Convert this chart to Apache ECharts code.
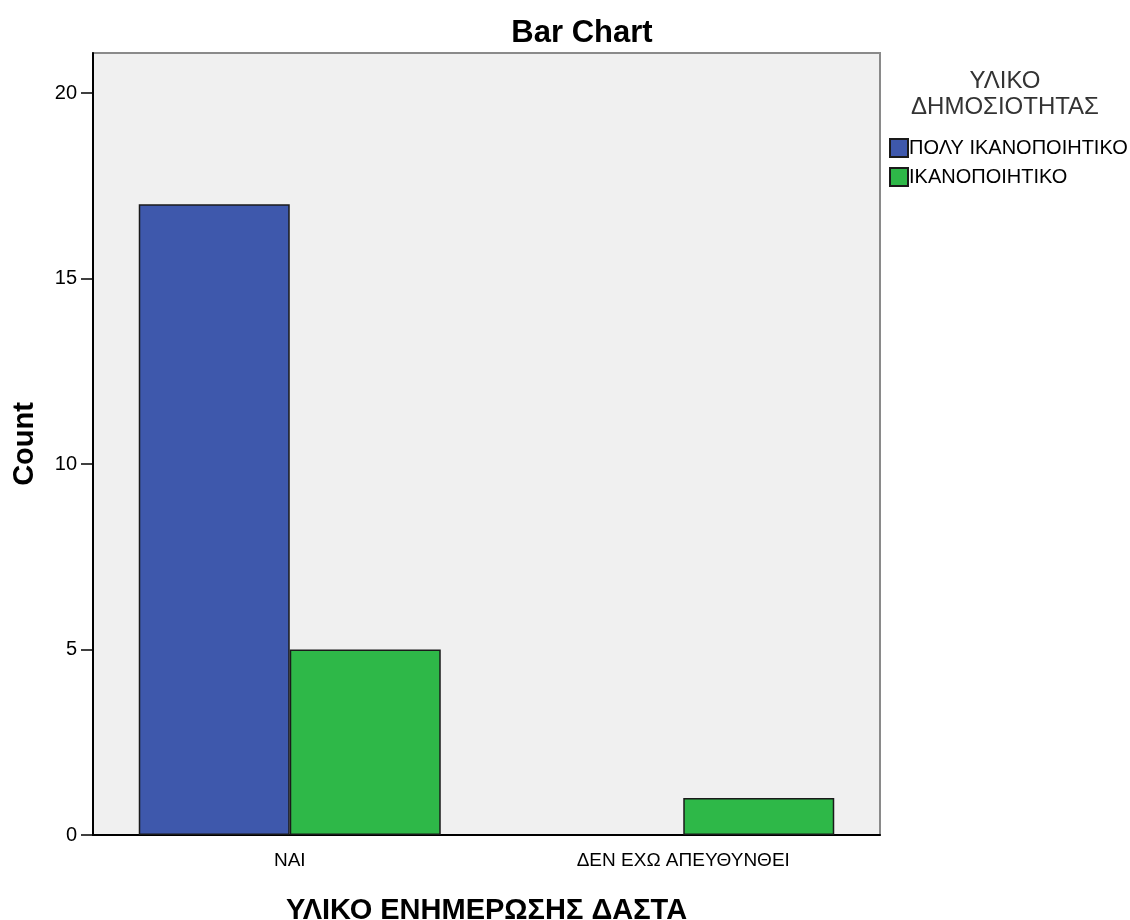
<!DOCTYPE html>
<html>
<head>
<meta charset="utf-8">
<script src="https://cdn.jsdelivr.net/npm/echarts@6/dist/echarts.min.js"></script>
<style>html,body{margin:0;padding:0;background:#fff}#c{width:1130px;height:920px}</style>
</head>
<body>
<div id="c"></div>
<script>
const categories = ['ΝΑΙ', 'ΔΕΝ ΕΧΩ ΑΠΕΥΘΥΝΘΕΙ'];
const seriesNames = ['ΠΟΛΥ ΙΚΑΝΟΠΟΙΗΤΙΚΟ', 'ΙΚΑΝΟΠΟΙΗΤΙΚΟ'];
const valuesVerySatisfactory = [17, null];
const valuesSatisfactory = [5, 1];
const yTicks = [0, 5, 10, 15, 20];
const chartTitle = 'Bar Chart';
const legendTitle = 'ΥΛΙΚΟ\nΔΗΜΟΣΙΟΤΗΤΑΣ';
const xName = 'ΥΛΙΚΟ ΕΝΗΜΕΡΩΣΗΣ ΔΑΣΤΑ';
const yName = 'Count';

const font = '"Liberation Sans", Arial, sans-serif';
const chart = echarts.init(document.getElementById('c'), null, {renderer: 'canvas'});
chart.setOption({
  animation: false,
  textStyle: {fontFamily: font},
  title: [
    {text: chartTitle, left: 577, top: 13, textAlign: 'center',
     textStyle: {fontFamily: font, fontSize: 31, fontWeight: 'bold', color: '#000'}},
    {text: legendTitle, left: 1000, top: 63, textAlign: 'center',
     textStyle: {fontFamily: font, fontSize: 24, fontWeight: 'normal', color: '#333', lineHeight: 26}}
  ],
  legend: {
    orient: 'vertical', left: 884, top: 133, itemWidth: 18, itemHeight: 18, itemGap: 9,
    icon: 'rect', data: seriesNames,
    textStyle: {fontFamily: font, fontSize: 20, color: '#000', padding: [0, 0, 0, -4]}
  },
  grid: {left: 93, right: 250, top: 53, bottom: 85, show: true, outerBoundsMode: 'none', containLabel: false,
         backgroundColor: '#f0f0f0', borderColor: '#8a8a8a', borderWidth: 2},
  xAxis: {
    type: 'category', data: categories,
    name: xName, nameLocation: 'middle', nameGap: 61, nameMoveOverlap: false,
    nameTextStyle: {fontFamily: font, fontSize: 29, fontWeight: 'bold', color: '#000'},
    axisLine: {lineStyle: {color: '#000', width: 2}},
    axisTick: {alignWithLabel: true, length: 11, lineStyle: {color: '#000', width: 1.5}},
    axisLabel: {fontFamily: font, fontSize: 19, color: '#000', margin: 16}
  },
  yAxis: {
    type: 'value', min: 0, max: 21.08, interval: 5,
    name: yName, nameLocation: 'middle', nameGap: 54, nameRotate: 90, nameMoveOverlap: false,
    nameTextStyle: {fontFamily: font, fontSize: 29, fontWeight: 'bold', color: '#000'},
    axisLine: {show: true, lineStyle: {color: '#000', width: 2}},
    axisTick: {show: true, length: 12, customValues: yTicks, lineStyle: {color: '#000', width: 1.5}},
    axisLabel: {fontFamily: font, fontSize: 20, color: '#000', margin: 16, customValues: yTicks},
    splitLine: {show: false}
  },
  series: [
    {name: seriesNames[0], type: 'bar', data: valuesVerySatisfactory, barWidth: 151, barGap: '0%',
     itemStyle: {color: '#3e58ac', borderColor: '#1a1a1a', borderWidth: 1.5}},
    {name: seriesNames[1], type: 'bar', data: valuesSatisfactory, barWidth: 151, barGap: '0%',
     itemStyle: {color: '#2eb848', borderColor: '#1a1a1a', borderWidth: 1.5}}
  ]
});
</script>
</body>
</html>
